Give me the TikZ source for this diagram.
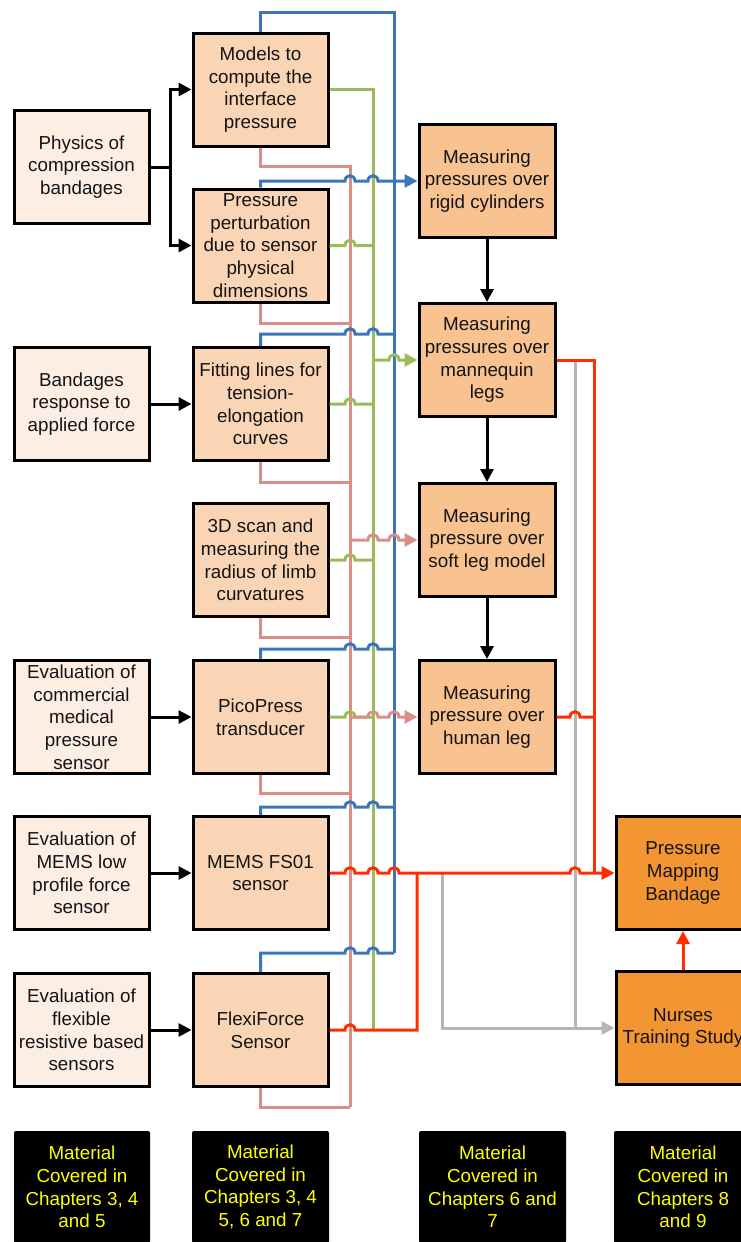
\documentclass[tikz,border=0pt]{standalone}
\usepackage{fontspec}
\setmainfont{Liberation Sans}
\usetikzlibrary{arrows.meta}
\definecolor{cLeft}{HTML}{FDEEE4}
\definecolor{cMid}{HTML}{FAD5B5}
\definecolor{cRight}{HTML}{F9C391}
\definecolor{cOrg}{HTML}{F39532}
\definecolor{cBlue}{HTML}{3B76BB}
\definecolor{cGreen}{HTML}{9BBB59}
\definecolor{cPink}{HTML}{DA8E86}
\definecolor{cRed}{HTML}{FF2D00}
\definecolor{cGrey}{HTML}{B5B5B5}
\definecolor{cYel}{HTML}{FFFF00}
\newcommand{\hop}[2]{-- (#1-5,#2) .. controls (#1-5,#2-7) and (#1+5,#2-7) .. (#1+5,#2)}
\begin{document}
\begin{tikzpicture}[x=1pt,y=-1pt,
  box/.style={draw=black, line width=3pt, minimum width=135pt, minimum height=113pt,
    inner sep=0pt, align=center, font=\fontsize{18.8}{22.7}\selectfont, text=black!92},
  lbox/.style={box, fill=cLeft},
  mbox/.style={box, fill=cMid},
  rbox/.style={box, fill=cRight, minimum width=136pt},
  obox/.style={box, fill=cOrg, minimum width=134pt},
  chap/.style={fill=black, rounded corners=2pt, minimum height=112pt, inner sep=0pt,
    align=center, text=cYel, font=\fontsize{18.8}{22.7}\selectfont},
  tip/.style={-{Triangle[length=13pt,width=13pt]}},
  bk/.style={draw=black, line width=3pt},
  bl/.style={draw=cBlue, line width=3pt},
  gl/.style={draw=cGreen, line width=3pt},
  pl/.style={draw=cPink, line width=3pt},
  rl/.style={draw=cRed, line width=3pt},
  gy/.style={draw=cGrey, line width=3pt},
]
\useasboundingbox (0,0) rectangle (740,1242);

% left column
\node[lbox] (phys)  at (81.5,167)  {Physics of\\compression\\bandages};
\node[lbox] (band)  at (81.5,404)  {Bandages\\response to\\applied force};
\node[lbox] (evalc) at (81.5,717)  {Evaluation of\\commercial\\medical\\pressure\\sensor};
\node[lbox] (evalm) at (81.5,873)  {Evaluation of\\MEMS low\\profile force\\sensor};
\node[lbox] (evalf) at (81.5,1030) {Evaluation of\\flexible\\resistive based\\sensors};

% second column
\node[mbox] (models) at (260.5,89.5) {Models to\\compute the\\interface\\pressure};
\node[mbox] (pert)   at (260.5,245.5) {Pressure\\perturbation\\due to sensor\\physical\\dimensions};
\node[mbox] (fit)    at (260.5,404) {Fitting lines for\\tension-\\elongation\\curves};
\node[mbox] (scan)   at (260.5,560) {3D scan and\\measuring the\\radius of limb\\curvatures};
\node[mbox] (pico)   at (260.5,717) {PicoPress\\transducer};
\node[mbox] (mems)   at (260.5,873) {MEMS FS01\\sensor};
\node[mbox] (flexi)  at (260.5,1030) {FlexiForce\\Sensor};

% third column
\node[rbox] (rigid) at (487,181) {Measuring\\pressures over\\rigid cylinders};
\node[rbox] (manq)  at (487,360) {Measuring\\pressures over\\mannequin\\legs};
\node[rbox] (soft)  at (487,540) {Measuring\\pressure over\\soft leg model};
\node[rbox] (human) at (487,717) {Measuring\\pressure over\\human leg};

% fourth column
\node[obox] (pmb)   at (683,873)  {Pressure\\Mapping\\Bandage};
\node[obox] (nurse) at (683,1028) {Nurses\\Training Study};

% chapter labels
\node[chap, minimum width=136pt] (ch1) at (82,1187)    {Material\\Covered in\\Chapters 3, 4\\and 5};
\node[chap, minimum width=137pt] (ch2) at (260.5,1187) {Material\\Covered in\\Chapters 3, 4\\5, 6 and 7};
\node[chap, minimum width=147pt] (ch3) at (492.5,1187) {Material\\Covered in\\Chapters 6 and\\7};
\node[chap, minimum width=138pt] (ch4) at (683,1187)   {Material\\Covered in\\Chapters 8\\and 9};

% black arrows
\coordinate (split) at (170,167);
\draw[bk] (phys.east) -- (split);
\draw[bk, tip] (split) |- (models.west);
\draw[bk, tip] (split) |- (pert.west);
\draw[bk, tip] (band.east) -- (fit.west);
\draw[bk, tip] (evalc.east) -- (pico.west);
\draw[bk, tip] (evalm.east) -- (mems.west);
\draw[bk, tip] (evalf.east) -- (flexi.west);
\draw[bk, tip] (rigid.south) -- (manq.north);
\draw[bk, tip] (manq.south) -- (soft.north);
\draw[bk, tip] (soft.south) -- (human.north);

% grey lines
\draw[gy] (575,361) -- (575,1028);
\draw[gy, tip] (442.7,873) -- (442.7,1028) -- (nurse.west);

% pink bus
\draw[pl] (models.south) |- (350,166) -- (350,1107);
\draw[pl] (pert.south) |- (350,323);
\draw[pl] (fit.south) |- (350,482);
\draw[pl] (scan.south) |- (350,637);
\draw[pl] (pico.south) |- (350,793);
\draw[pl] (flexi.south) |- (350,1107);

% green bus
\draw[gl] (models.east) -- (373,89.5) -- (373,1030);
\draw[gl] (pert.east) \hop{350}{245.5} -- (373,245.5);
\draw[gl] (fit.east) \hop{350}{404} -- (373,404);
\draw[gl] (scan.east) \hop{350}{560} -- (373,560);
\draw[gl] (pico.east) \hop{350}{717} -- (373,717);

% blue bus
\draw[bl] (models.north) |- (394,12) -- (394,953);
\draw[bl] (fit.north) -- (260.5,334) \hop{350}{334} \hop{373}{334} -- (394,334);
\draw[bl] (pico.north) -- (260.5,649) \hop{350}{649} \hop{373}{649} -- (394,649);
\draw[bl] (mems.north) -- (260.5,807) \hop{350}{807} \hop{373}{807} -- (394,807);
\draw[bl] (flexi.north) -- (260.5,953) \hop{350}{953} \hop{373}{953} -- (394,953);

% outputs of the buses
\draw[bl, tip] (pert.north) -- (260.5,181) \hop{350}{181} \hop{373}{181} -- (rigid.west);
\draw[gl, tip] (373,360) \hop{394}{360} -- (manq.west);
\draw[pl, tip] (350,540) \hop{373}{540} \hop{394}{540} -- (soft.west);
\draw[pl, tip] (350,717) \hop{373}{717} \hop{394}{717} -- (human.west);

% red lines
\draw[rl] (flexi.east) \hop{350}{1030} -- (417,1030) -- (417,873);
\draw[rl] (manq.east) -- (594,360) -- (594,873);
\draw[rl] (human.east) \hop{575}{717} -- (594,717);
\draw[rl, tip] (mems.east) \hop{350}{873} \hop{373}{873} \hop{394}{873} \hop{575}{873} -- (pmb.west);
\draw[rl, tip] (nurse.north) -- (pmb.south);
\end{tikzpicture}
\end{document}
